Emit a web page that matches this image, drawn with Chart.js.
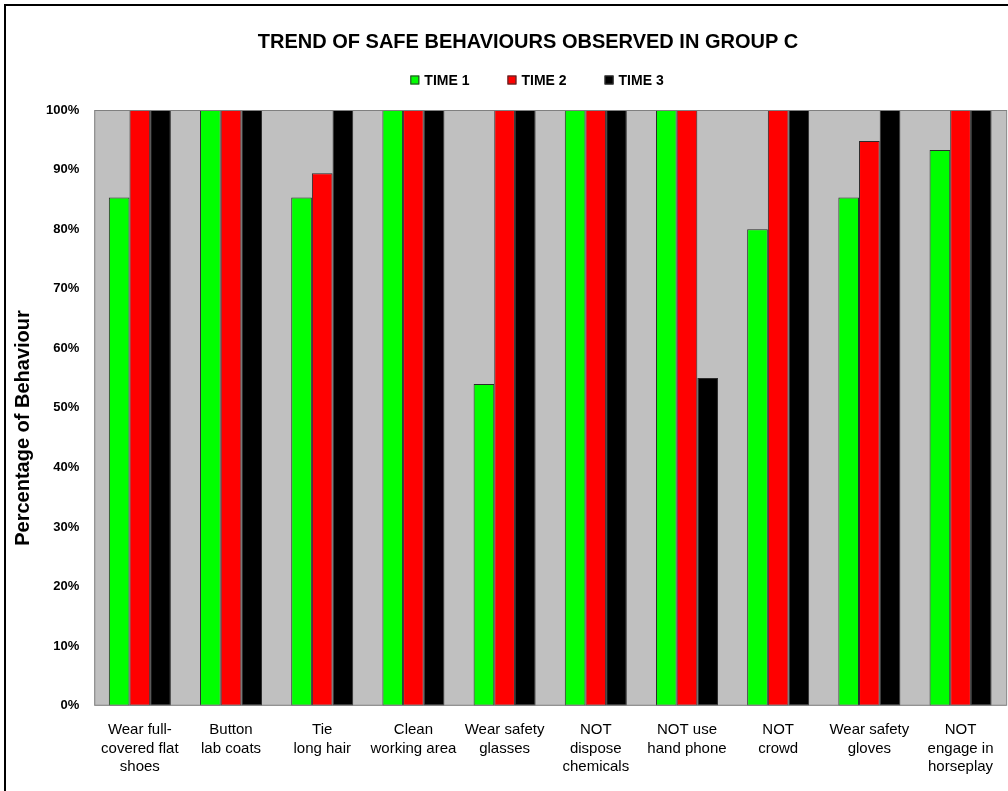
<!DOCTYPE html>
<html>
<head>
<meta charset="utf-8">
<title>Trend of safe behaviours - Group C</title>
<script src="https://cdn.jsdelivr.net/npm/chart.js@4/dist/chart.umd.min.js"></script>
<style>
  html, body { margin: 0; padding: 0; background: #fff; }
  #wrap { width: 1008px; height: 791px; overflow: hidden; }
</style>
</head>
<body>
<div id="wrap"><canvas id="chart" width="1008" height="791"></canvas></div>
<script>
// behaviours observed (one label per category, split into lines)
const behaviours = [
  ['Wear full-', 'covered flat', 'shoes'],
  ['Button', 'lab coats'],
  ['Tie', 'long hair'],
  ['Clean', 'working area'],
  ['Wear safety', 'glasses'],
  ['NOT', 'dispose', 'chemicals'],
  ['NOT use', 'hand phone'],
  ['NOT', 'crowd'],
  ['Wear safety', 'gloves'],
  ['NOT', 'engage in', 'horseplay']
];

const seriesNames = ['TIME 1', 'TIME 2', 'TIME 3'];
const seriesColors = ['#00ff00', '#ff0000', '#000000'];

// percentage of behaviour per observation round
const time1 = [85.3, 100, 85.3, 100, 54, 100, 100, 80, 85.3, 93.3];
const time2 = [100, 100, 89.4, 100, 100, 100, 100, 100, 94.8, 100];
const time3 = [100, 100, 100, 100, 100, 100, 55, 100, 100, 100];

const yTicks = [0, 10, 20, 30, 40, 50, 60, 70, 80, 90, 100];

const chartTitle = 'TREND OF SAFE BEHAVIOURS OBSERVED IN GROUP C';
const yTitle = 'Percentage of Behaviour';

const FONT = 'Arial, "Liberation Sans", sans-serif';

// gray plot background, plot border, outer frame, title, legend and y title
const decorations = {
  id: 'decorations',
  beforeDatasetsDraw(chart) {
    const { ctx, chartArea: a } = chart;
    ctx.save();
    ctx.fillStyle = '#c0c0c0';
    ctx.fillRect(a.left, a.top, a.right - a.left, a.bottom - a.top);
    ctx.restore();
  },
  afterDraw(chart) {
    const { ctx, chartArea: a } = chart;
    ctx.save();

    ctx.strokeStyle = '#808080';
    ctx.lineWidth = 1;
    ctx.strokeRect(a.left + 0.5, a.top + 0.5, a.right - a.left, a.bottom - a.top - 1);

    ctx.strokeStyle = '#000';
    ctx.lineWidth = 2;
    ctx.strokeRect(5, 5, 1100, 1000);

    ctx.fillStyle = '#000';
    ctx.textBaseline = 'middle';
    ctx.textAlign = 'center';
    ctx.font = 'bold 20px ' + FONT;
    ctx.fillText(chartTitle, 528, 42);

    // legend
    ctx.font = 'bold 14px ' + FONT;
    ctx.textAlign = 'left';
    const box = 9, gapText = 5, gapItem = 38;
    const items = chart.data.datasets.map(ds => ({
      label: ds.label, color: ds.backgroundColor,
      w: box + gapText + ctx.measureText(ds.label).width
    }));
    const total = items.reduce((s, it) => s + it.w, 0) + gapItem * (items.length - 1);
    let x = 537 - total / 2;
    const ly = 80;
    items.forEach(it => {
      ctx.fillStyle = it.color;
      ctx.fillRect(x, ly - box / 2, box, box);
      ctx.strokeStyle = '#333';
      ctx.lineWidth = 1;
      ctx.strokeRect(x + 0.5, ly - box / 2 + 0.5, box - 1, box - 1);
      ctx.fillStyle = '#000';
      ctx.fillText(it.label, x + box + gapText, ly + 1);
      x += it.w + gapItem;
    });

    // y axis title
    ctx.translate(23, 428);
    ctx.rotate(-Math.PI / 2);
    ctx.textAlign = 'center';
    ctx.font = 'bold 20px ' + FONT;
    ctx.fillText(yTitle, 0, 0);

    ctx.restore();
  }
};

const makeSet = (i, values) => ({
  label: seriesNames[i],
  data: values,
  backgroundColor: seriesColors[i],
  borderColor: '#2b2b2b',
  borderWidth: 1,
  borderSkipped: false,
  barPercentage: 1.0,
  categoryPercentage: 0.68
});

new Chart(document.getElementById('chart'), {
  type: 'bar',
  data: {
    labels: behaviours,
    datasets: [makeSet(0, time1), makeSet(1, time2), makeSet(2, time3)]
  },
  options: {
    responsive: false,
    animation: false,
    layout: { padding: { top: 110, left: 31, right: -4, bottom: 0 } },
    plugins: {
      legend: { display: false },
      title: { display: false },
      tooltip: { enabled: false }
    },
    scales: {
      x: {
        grid: { display: false, drawTicks: false },
        border: { display: false },
        ticks: {
          color: '#000',
          font: { family: FONT, size: 15, lineHeight: 1.25 },
          padding: 14.5,
          maxRotation: 0,
          autoSkip: false
        }
      },
      y: {
        min: 0,
        max: 100,
        afterBuildTicks: axis => { axis.ticks = yTicks.map(v => ({ value: v })); },
        grid: { display: false, drawTicks: false },
        border: { display: false },
        ticks: {
          color: '#000',
          font: { family: FONT, size: 13, weight: 'bold' },
          padding: 15,
          callback: v => v + '%'
        }
      }
    }
  },
  plugins: [decorations]
});
</script>
</body>
</html>
